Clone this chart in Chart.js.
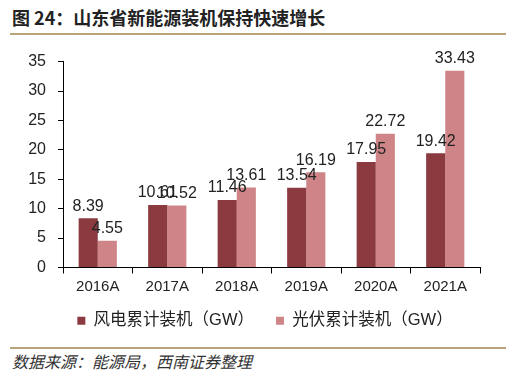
<!DOCTYPE html>
<html>
<head>
<meta charset="utf-8">
<script src="https://cdn.jsdelivr.net/npm/chart.js@4.4.1/dist/chart.umd.min.js"></script>
<style>
    body { margin: 0; width: 507px; height: 379px; background: #fff; position: relative; overflow: hidden; font-family: "Liberation Sans", Arial, sans-serif; }
    #title { position: absolute; left: 12px; top: 4px; font: bold 18px "Noto Sans CJK SC", sans-serif; color: #222; }
    .rule { position: absolute; left: 10px; width: 496px; height: 2px; background: #b9a47c; }
    #chartBox { position: absolute; left: 0; top: 40px; width: 507px; height: 300px; }
    #source { position: absolute; left: 12px; top: 349px; font: italic 16px "Noto Sans CJK SC", sans-serif; color: #333; }
</style>
</head>
<body>
<div id="title">图 24：山东省新能源装机保持快速增长</div>
<div class="rule" style="top:33px"></div>
<div id="chartBox"><canvas id="chart" width="507" height="300"></canvas></div>
<div class="rule" style="top:347px"></div>
<div id="source">数据来源：能源局，西南证券整理</div>
<script>
// categories and series
const years = ['2016A', '2017A', '2018A', '2019A', '2020A', '2021A'];
const windGW = [8.39, 10.61, 11.46, 13.54, 17.95, 19.42];
const solarGW = [4.55, 10.52, 13.61, 16.19, 22.72, 33.43];
const seriesNames = ['风电累计装机（GW）', '光伏累计装机（GW）'];

// simple value labels above each bar
const barLabels = {
    id: 'barLabels',
    afterDatasetsDraw(chart) {
        const ctx = chart.ctx;
        ctx.save();
        ctx.font = '16px "Liberation Sans", Arial, sans-serif';
        ctx.fillStyle = '#222';
        ctx.textAlign = 'center';
        ctx.textBaseline = 'bottom';
        chart.data.datasets.forEach((ds, i) => {
            chart.getDatasetMeta(i).data.forEach((bar, j) => {
                ctx.fillText(ds.data[j].toFixed(2), bar.x, bar.y - 4);
            });
        });
        ctx.restore();
    }
};

// legend padding also sets the gap between items, so move the drawn legend a bit
const legendNudge = {
    id: 'legendNudge',
    afterLayout(chart) {
        if (chart.legend) {
            chart.legend.top -= 9;
            chart.legend.bottom -= 9;
            chart.legend.left += 25;
            chart.legend.right += 25;
        }
    }
};

const ctx = document.getElementById('chart').getContext('2d');
new Chart(ctx, {
    type: 'bar',
    data: {
        labels: years,
        datasets: [{
            label: seriesNames[0],
            data: windGW,
            backgroundColor: '#8b3a40',
            categoryPercentage: 0.55,
            barPercentage: 1.0
        }, {
            label: seriesNames[1],
            data: solarGW,
            backgroundColor: '#cf8587',
            categoryPercentage: 0.55,
            barPercentage: 1.0
        }]
    },
    options: {
        responsive: false,
        animation: false,
        layout: { padding: { top: 18, right: 27, left: 0, bottom: -8 } },
        scales: {
            y: {
                min: 0,
                max: 35,
                ticks: { stepSize: 5, color: '#222', font: { size: 16, family: '"Liberation Sans", Arial' }, padding: 12 },
                grid: { drawOnChartArea: false, drawTicks: true, tickLength: 5, color: '#000' },
                border: { color: '#000', width: 1 },
                afterFit: (scale) => { scale.width = 63; }
            },
            x: {
                ticks: { color: '#222', font: { size: 15, family: '"Liberation Sans", Arial' }, padding: 4 },
                grid: { offset: true, drawOnChartArea: false, drawTicks: true, tickLength: 6, color: '#000' },
                border: { color: '#000', width: 1 }
            }
        },
        plugins: {
            legend: {
                position: 'bottom',
                labels: {
                    usePointStyle: true,
                    pointStyle: 'rect',
                    boxWidth: 8,
                    boxHeight: 8,
                    padding: 22,
                    color: '#222',
                    font: { size: 16.5, family: '"Liberation Sans", "Noto Sans CJK SC", sans-serif' }
                }
            },
            tooltip: { enabled: false }
        }
    },
    plugins: [barLabels, legendNudge]
});
</script>
</body>
</html>
